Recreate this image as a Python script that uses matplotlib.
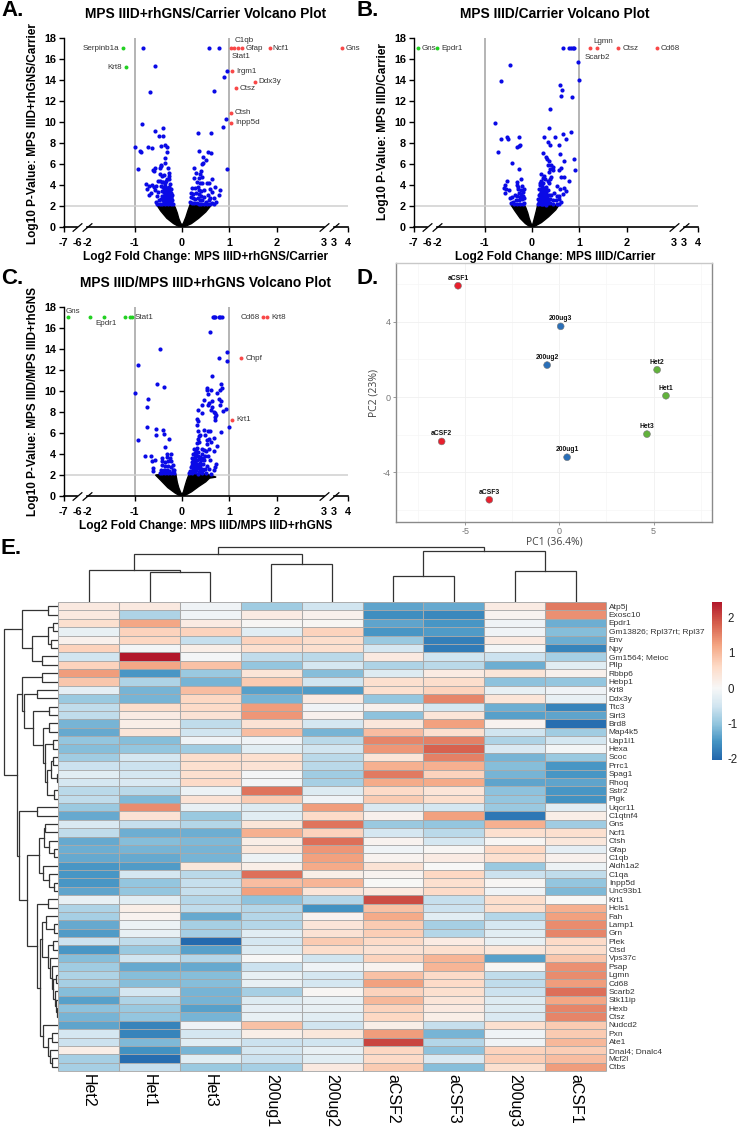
import matplotlib
matplotlib.use('Agg')
import matplotlib.pyplot as plt
import numpy as np
from matplotlib.colors import LinearSegmentedColormap, TwoSlopeNorm

plt.rcParams['font.family'] = ['Liberation Sans', 'DejaVu Sans']
plt.rcParams['axes.unicode_minus'] = False

# ---- volcano data: log2 fold change, -log10 p
a_red = [(3.57, 17), (1.85, 17), (1.27, 17), (1.18, 17), (1.10, 17), (1.03, 17), (1.06, 14.8),
         (1.535, 13.8), (1.13, 13.2), (1.03, 10.85), (1.03, 9.9)]
a_red_names = ['Gns', 'Ncf1', 'Gfap', '', 'C1qb', 'Stat1', 'Irgm1', 'Ddx3y', 'Ctsz', 'Ctsh', 'Inpp5d']
a_green = [(-1.25, 17), (-1.175, 15.2)]
a_green_names = ['Serpinb1a', 'Krt8']
a_blue = [(-.835, 17), (-.58, 15.35), (-.67, 12.85), (-.85, 9.82), (-.57, 9.1), (-.41, 9.43), (-.48, 8.6),
          (-.41, 8.6), (-1.0, 7.58), (-.71, 7.6), (-.64, 7.5), (-.35, 7.75), (-.32, 7.55), (-.44, 7.65),
          (-.88, 7.25), (-.86, 7.12), (-.32, 7.1), (-.36, 6.5), (-.355, 6.05), (-.93, 5.48), (-.61, 5.42),
          (-.58, 5.6), (-.59, 5.3), (-.45, 5.75), (-.44, 5.85), (-.46, 5.6), (-.29, 5.55), (-.28, 5.15),
          (-.27, 4.85), (-.46, 5.0), (-.43, 4.8), (-.38, 4.95), (-.5, 4.4), (-.46, 4.35), (-.43, 4.25),
          (-.4, 4.3), (-.37, 4.2), (-.34, 4.4), (-.31, 4.5), (-.27, 4.5), (-.26, 4.1), (-.55, 3.9),
          (-.76, 4.1), (-.7, 3.9), (-.74, 3.6), (-.6, 3.75), (-.66, 3.2), (-.69, 3.0), (-.63, 4.0),
          (-.57, 3.45), (-.5, 3.3), (-.53, 2.9), (-.55, 2.35), (-.53, 2.2), (-.48, 2.5),
          (-.44, 3.9), (-.4, 3.8), (-.36, 3.9), (-.32, 3.7), (-.28, 3.8), (-.24, 3.6),
          (-.43, 3.4), (-.39, 3.3), (-.36, 3.5), (-.33, 3.3), (-.3, 3.45), (-.27, 3.3), (-.24, 3.2),
          (-.42, 2.9), (-.38, 2.95), (-.35, 3.0), (-.32, 2.95), (-.29, 3.05), (-.26, 2.9), (-.23, 2.85),
          (-.45, 2.6), (-.41, 2.5), (-.37, 2.6), (-.34, 2.55), (-.31, 2.65), (-.28, 2.55), (-.25, 2.6), (-.21, 2.5),
          (-.47, 2.2), (-.43, 2.2), (-.39, 2.25), (-.36, 2.2), (-.33, 2.25), (-.3, 2.2), (-.27, 2.25), (-.24, 2.2), (-.2, 2.2),
          (-.38, 3.65), (-.34, 3.6), (-.3, 3.6), (-.26, 3.5), (-.37, 3.15), (-.34, 3.15), (-.31, 3.15), (-.28, 3.1),
          (-.25, 3.05), (-.22, 3.0), (-.4, 2.75), (-.36, 2.8), (-.33, 2.75), (-.3, 2.8), (-.27, 2.75), (-.24, 2.75),
          (-.39, 2.45), (-.35, 2.4), (-.32, 2.4), (-.29, 2.4), (-.26, 2.4), (-.23, 2.4),
          (.57, 17), (.78, 17), (.96, 14.85), (.88, 14.3), (.665, 12.97), (.92, 10.25), (.87, 9.47),
          (.34, 8.93), (.615, 8.93), (.35, 7.2), (.545, 7.1), (.61, 7.0), (.44, 6.6), (.51, 6.4), (.45, 6.1),
          (.43, 6.0), (.94, 5.45), (.26, 5.6), (.4, 5.3), (.3, 5.1), (.39, 5.0), (.43, 4.75), (.35, 4.65),
          (.64, 4.55), (.26, 4.6), (.32, 4.3), (.38, 4.2), (.42, 4.2), (.52, 4.2), (.58, 4.2), (.7, 3.8),
          (.78, 3.0), (.81, 3.5), (.64, 3.3), (.6, 3.6), (.22, 3.65), (.27, 3.7), (.33, 3.8), (.36, 3.5),
          (.41, 3.4), (.46, 3.5), (.54, 3.0), (.19, 3.2), (.24, 3.1), (.3, 3.2), (.35, 3.1), (.4, 2.9),
          (.47, 2.85), (.6, 2.75), (.68, 2.7), (.72, 2.4), (.18, 2.8), (.23, 2.7), (.28, 2.6), (.33, 2.75),
          (.38, 2.5), (.43, 2.5), (.5, 2.4), (.56, 2.5), (.63, 2.3), (.17, 2.4), (.21, 2.3), (.26, 2.25),
          (.31, 2.3), (.36, 2.2), (.41, 2.2), (.46, 2.2), (.53, 2.2), (.59, 2.15), (.68, 2.2)]

b_red = [(2.64, 17), (1.82, 17), (1.366, 17), (1.217, 17)]
b_red_names = ['Cd68', 'Ctsz', 'Lgmn', 'Scarb2']
b_green = [(-6.69, 17), (-2.01, 17)]
b_green_names = ['Gns', 'Epdr1']
b_blue = [(.644, 17), (.78, 17), (.82, 17), (.87, 17), (.89, 17), (.98, 15.7), (1.0, 13.95), (.6, 13.5),
          (.64, 13), (.62, 12.48), (.85, 12.35), (.38, 11.2), (-.785, 9.87), (-.474, 15.4), (-.665, 13.9),
          (.36, 9.36), (.83, 9.05), (.65, 8.85), (.255, 8.5), (.495, 8.5), (.715, 8.35), (.33, 8.1), (.39, 7.8),
          (.56, 7.74), (.6, 6.97), (.23, 7.03), (.29, 6.6), (.32, 6.43), (.35, 6.3), (.68, 6.27), (.88, 6.46),
          (.33, 5.83), (.4, 5.9), (.44, 5.73), (.38, 5.5), (.9, 5.41), (.62, 5.57), (.56, 5.4), (.45, 5.4),
          (.36, 5.25), (.18, 5.0), (.25, 4.87), (.62, 4.7), (.68, 4.7), (.78, 4.35), (.41, 4.75), (.38, 4.5),
          (.33, 4.4), (.28, 4.5), (.23, 4.6), (.19, 4.4), (.16, 4.2), (.24, 4.2), (.36, 4.2), (.53, 3.85),
          (.6, 3.6), (.68, 3.7), (.72, 3.4), (.65, 3.1), (.46, 3.2), (.34, 3.5), (.3, 3.8), (.25, 3.7),
          (.2, 3.8), (.15, 3.6), (.18, 3.3), (.23, 3.2), (.29, 3.3), (.35, 3.0), (.41, 3.0), (.52, 2.9),
          (.57, 2.9), (.14, 3.0), (.19, 2.9), (.25, 2.8), (.31, 2.7), (.37, 2.6), (.44, 2.5), (.5, 2.5),
          (.58, 2.6), (.62, 2.4), (.13, 2.6), (.17, 2.5), (.22, 2.4), (.27, 2.3), (.33, 2.3), (.39, 2.25),
          (.45, 2.2), (.52, 2.2), (.56, 2.15), (.13, 2.2), (.18, 2.15), (.24, 2.15), (.3, 2.1),
          (.2, 4.1), (.17, 3.95), (.22, 3.45), (.27, 3.45), (.16, 3.15), (.21, 3.0), (.26, 3.05), (.32, 3.0),
          (.16, 2.75), (.22, 2.65), (.28, 2.5), (.34, 2.5), (.15, 2.35), (.2, 2.2), (.25, 2.5),
          (-.665, 8.33), (-.52, 8.5), (-.5, 8.37), (-.283, 8.5), (-.26, 7.8), (-.31, 7.6), (-.28, 7.7), (-.715, 7.1),
          (-.42, 6.05), (-.27, 5.54), (-.24, 4.58), (-.53, 4.33), (-.31, 4.25), (-.31, 4.0), (-.58, 3.95),
          (-.6, 3.7), (-.56, 3.6), (-.49, 3.5), (-.57, 3.25), (-.3, 3.8), (-.29, 3.6), (-.21, 3.85), (-.18, 3.6),
          (-.24, 3.5), (-.19, 3.3), (-.23, 3.1), (-.28, 3.2), (-.42, 2.85), (-.46, 2.7), (-.36, 3.0), (-.31, 2.9),
          (-.26, 2.8), (-.2, 2.9), (-.17, 2.7), (-.22, 2.6), (-.28, 2.5), (-.34, 2.55), (-.41, 2.4), (-.45, 2.3),
          (-.38, 2.2), (-.32, 2.2), (-.26, 2.2), (-.2, 2.2), (-.16, 2.3)]

c_red = [(1.8, 17), (1.7, 17), (1.25, 13.1), (1.055, 7.25)]
c_red_names = ['Krt8', 'Cd68', 'Chpf', 'Krt1']
c_green = [(-6.69, 17), (-1.946, 17), (-1.656, 17), (-1.196, 17), (-1.1, 17), (-1.05, 17)]
c_green_names = ['Gns', '', 'Epdr1', '', '', 'Stat1']
c_blue = [(.65, 17), (.68, 17), (.7, 17), (.78, 17), (.8, 17), (.84, 17), (.6, 15.65), (-.46, 14.0), (.96, 13.7),
          (.78, 13.15), (.94, 12.85), (-.94, 12.45), (.63, 11.45), (.83, 10.7), (-.53, 10.65), (-.38, 10.4),
          (.52, 10.3), (.53, 10.1), (.61, 10.05), (.84, 10.25), (.8, 10.05), (.73, 9.85), (.54, 9.75), (-1.0, 9.8),
          (-.71, 9.25), (.47, 9.15), (.78, 9.2), (.83, 9.0), (.64, 9.0), (.8, 8.7), (.43, 8.7), (.56, 8.85),
          (.55, 8.7), (.64, 8.5), (-.74, 8.45), (.33, 8.2), (.62, 8.2), (.92, 8.3), (.87, 8.1), (.67, 8.0),
          (.7, 7.95), (.43, 7.9), (.72, 7.7), (.7, 7.5), (.32, 7.3), (.33, 7.1), (.69, 7.25), (.31, 6.75),
          (1.0, 6.6), (-.75, 6.6), (-.54, 6.4), (-.41, 6.3), (-.39, 5.9), (-.55, 5.85), (.33, 6.2), (.47, 6.25),
          (.54, 6.15), (.6, 6.2), (.83, 6.1), (.38, 5.85), (.36, 5.7), (.49, 5.85), (.34, 5.4), (.53, 5.3),
          (.58, 5.4), (.68, 5.5), (-.93, 5.3), (-.28, 5.4), (.32, 5.0), (.36, 5.15), (.52, 4.95), (.62, 5.1),
          (.73, 4.8), (-.35, 4.65), (.31, 4.6), (.25, 4.45), (.29, 4.3), (.42, 4.5), (.46, 4.4), (.5, 4.3),
          (.57, 4.5), (.67, 4.3), (-.79, 3.85), (-.65, 3.85), (-.32, 4.0), (-.23, 4.0), (.24, 4.0), (.3, 3.95),
          (.34, 3.8), (.43, 4.0), (.48, 3.85), (.55, 3.8), (-.42, 3.6), (-.31, 3.7), (-.26, 3.6), (.21, 3.6),
          (.26, 3.55), (.32, 3.4), (.4, 3.4), (.47, 3.45), (.6, 3.45), (-.58, 3.4), (-.63, 3.3), (-.42, 3.3),
          (-.37, 3.2), (-.3, 3.3), (-.23, 3.3), (.2, 3.2), (.25, 3.1), (.31, 3.05), (.37, 3.1), (.44, 3.0),
          (.52, 2.9), (.72, 3.0), (.7, 2.75), (-.42, 2.95), (-.36, 2.85), (-.3, 2.9), (-.24, 2.8), (-.2, 2.95),
          (.18, 2.8), (.23, 2.7), (.29, 2.7), (.36, 2.7), (.42, 2.6), (.49, 2.6), (.56, 2.6), (.68, 2.5),
          (-.62, 2.65), (-.61, 2.4), (-.44, 2.5), (-.38, 2.45), (-.32, 2.5), (-.27, 2.4), (-.2, 2.5),
          (-.16, 2.45), (.17, 2.4), (.22, 2.3), (.28, 2.3), (.35, 2.3), (.43, 2.2), (.51, 2.2), (.61, 2.1),
          (-.47, 2.2), (-.42, 2.15), (-.35, 2.2), (-.29, 2.15), (-.23, 2.2), (-.17, 2.15), (.14, 2.2), (.2, 2.15), (.33, 2.1),
          (.28, 4.05), (.33, 4.2), (.27, 3.75), (.23, 3.35), (.28, 3.25), (.35, 3.5), (.39, 3.75), (.44, 3.6),
          (.21, 2.95), (.27, 2.9), (.33, 2.85), (.39, 2.85), (.24, 2.5), (.3, 2.5), (.37, 2.5), (.45, 2.45)]

# outline of the non-significant black cloud, one for each comparison
a_cloud_x = [-.53, -.45, -.32, -.18, -.08, 0, .08, .2, .35, .5, .6, .58, .45, .3, .17, .13, .08, .03, 0, -.03, -.07, -.1, -.14, -.18]
a_cloud_y = [2.05, 1.5, .8, .3, .05, 0, .05, .3, .8, 1.4, 1.95, 2.1, 2.1, 2.1, 2.1, 1.6, .9, .35, .15, .35, .8, 1.3, 1.8, 2.1]
b_cloud_x = [-.44, -.36, -.25, -.14, -.06, 0, .06, .2, .35, .5, .56, .45, .3, .12, .09, .05, .02, 0, -.02, -.06, -.09, -.13, -.17, -.3]
b_cloud_y = [2.05, 1.5, .8, .3, .05, 0, .05, .4, .95, 1.6, 2.0, 2.1, 2.1, 2.1, 1.5, .8, .3, .12, .3, .8, 1.3, 1.8, 2.1, 2.1]
c_cloud_x = [-.56, -.45, -.3, -.15, -.06, 0, .06, .2, .35, .5, .58, .72, .5, .3, .15, .1, .06, .03, 0, -.03, -.07, -.1, -.13, -.3]
c_cloud_y = [2.0, 1.5, .8, .3, .05, 0, .05, .4, .9, 1.35, 1.7, 1.8, 2.1, 2.1, 2.1, 1.5, .9, .4, .15, .35, .8, 1.3, 2.05, 2.1]

# ---- PCA data
pca_names = ['aCSF1', 'aCSF2', 'aCSF3', '200ug3', '200ug2', '200ug1', 'Het2', 'Het1', 'Het3']
pc1 = [-5.38, -6.25, -3.72, .07, -.65, .41, 5.19, 5.66, 4.65]
pc2 = [5.92, -2.36, -5.46, 3.76, 1.7, -3.2, 1.45, .07, -1.97]
pca_colors = ['#e8202e'] * 3 + ['#2a6fb8'] * 3 + ['#62b23c'] * 3

# ---- heatmap data
samples = ['Het2', 'Het1', 'Het3', '200ug1', '200ug2', 'aCSF2', 'aCSF3', '200ug3', 'aCSF1']
genes = ['Atp5j', 'Exosc10', 'Epdr1', 'Gm13826; Rpl37rt; Rpl37', 'Env', 'Npy', 'Gm1564; Meioc', 'Pllp', 'Rbbp6',
         'Hebp1', 'Krt8', 'Ddx3y', 'Ttc3', 'Sirt3', 'Brd8', 'Map4k5', 'Uap1l1', 'Hexa', 'Scoc', 'Prrc1', 'Spag1',
         'Rhoq', 'Sstr2', 'Pigk', 'Uqcr11', 'C1qtnf4', 'Gns', 'Ncf1', 'Ctsh', 'Gfap', 'C1qb', 'Aldh1a2', 'C1qa',
         'Inpp5d', 'Unc93b1', 'Krt1', 'Hcls1', 'Fah', 'Lamp1', 'Grn', 'Plek', 'Ctsd', 'Vps37c', 'Psap', 'Lgmn',
         'Cd68', 'Scarb2', 'Stk11ip', 'Hexb', 'Ctsz', 'Nudcd2', 'Pxn', 'Ate1', 'Dnal4; Dnalc4', 'Mcf2l', 'Ctbs']
expr = [
    [.3, .3, -.1, -.9, -.5, -1.35, -1.3, .25, 1.6],
    [.3, -.8, -.1, .25, .15, -1.6, -1.65, .1, 1.4],
    [.5, 1.2, .25, .05, .05, -1.35, -1.5, -.1, -1.25],
    [-.2, .7, .7, -.3, .7, -1.5, -1.45, -.1, -1.1],
    [.15, .65, -.6, .7, .55, -.95, -1.75, .3, -1.25],
    [.7, -.05, .2, .5, .5, -.45, -1.8, -.05, -1.7],
    [-.5, 2.45, -.05, -.65, -.7, .3, -.5, -.55, -.85],
    [.7, 1.2, .9, -1, -.45, -.8, -.7, -1.25, -.3],
    [1.3, -1.5, -.95, .4, -1.1, -.35, .25, .4, .15],
    [.85, -.8, -1.2, .8, -.5, .5, .55, -1.05, -1.0],
    [-.25, -1.2, .95, -1.4, -1.45, .5, .7, -.2, -.1],
    [-.95, -1.2, .65, -1.2, .3, -1, 1.5, .4, -.2],
    [-.65, .55, .6, 1.3, -.1, .15, -.45, -1.25, -1.7],
    [-.65, .25, .45, 1.35, .15, -1.05, .4, -1.4, -1.35],
    [-1.2, .2, -.65, .45, -.45, .35, 1.25, .1, -1.95],
    [-1.3, .4, -.5, .95, -1.2, .95, .5, -.5, -.9],
    [-1.0, -1.1, -.1, -.1, -.7, 1.5, 1.55, -.8, -.45],
    [-1.1, -1.0, -.9, -.3, -.5, 1.35, 1.8, -.4, -.05],
    [-.9, -.45, .55, .5, -.7, .4, 1.55, -1.2, -.95],
    [-.55, -.55, .5, .45, -.7, 1.1, 1.1, -1.1, -1.5],
    [-.3, -.45, .5, -.05, -.9, 1.6, .7, -1.2, -1.5],
    [-.45, -.4, .6, -.05, -.85, 1.15, 1.15, -1.35, -1.35],
    [-.7, -.7, -.15, 1.65, -.35, .6, .4, -1.05, -1.5],
    [-.65, -1.15, .45, .8, -.1, .8, .55, -1.0, -1.55],
    [-.95, 1.45, -.2, -.35, 1.3, -.4, -.45, -.95, -.3],
    [-1.3, .45, -.95, -.3, .6, .15, 1.25, -1.85, .2],
    [-.4, -.6, -.75, .4, 1.65, -.95, -1.0, 1.1, -.9],
    [-.65, -1.25, -1.25, 1.1, .7, -.45, -.7, .5, .5],
    [-1.3, -1.1, -1.15, .2, 1.7, .1, -.45, .05, .35],
    [-1.25, -1.2, -1.2, .35, 1.35, -.1, .05, .65, -.25],
    [-1.3, -1.3, -1.2, -.15, 1.25, .1, .25, .5, .15],
    [-1.5, -1.45, .35, .2, 1.15, .45, 0, -.95, -.15],
    [-1.5, -.45, -.7, 1.7, .2, .1, .65, -.55, -.65],
    [-1.5, -1.0, -.6, .95, 1.05, 0, .5, .05, -1.0],
    [-1.35, -1.0, -.6, 1.25, .4, .3, .6, -.1, -1.15],
    [-.2, -.3, -.75, -1.05, -.75, 2.0, -.6, .55, 0],
    [-.8, .2, -.65, -.75, -1.55, .9, -.55, .55, 1.1],
    [-.85, .1, -1.3, -.75, .1, 1.15, -.3, -.75, 1.25],
    [-1.3, -.15, -.85, -.75, .4, .8, -.85, -.45, 1.45],
    [-1.45, -.2, -.85, -.3, .45, .75, -.75, -.3, 1.5],
    [-.55, -.65, -2.0, -.45, .8, .6, .25, -.2, .6],
    [-1.5, -.95, -1.4, -.35, .55, .45, .5, .35, .55],
    [-1.1, -.5, -.75, 0, -.5, .7, 1.05, -1.4, .85],
    [-.9, -1.3, -1.3, -.55, -.1, .1, 1.05, .05, 1.4],
    [-.8, -1.1, -1.1, -.2, -.45, .9, .6, -.65, 1.45],
    [-.85, -1.1, -1.1, -.2, -.45, 1.25, .6, -.65, 1.3],
    [-1.1, -.45, -1.2, -.85, .05, .7, .5, -.55, 1.7],
    [-1.4, -.8, -1.2, -.35, -.2, 1.0, .4, -.35, 1.2],
    [-1.05, -.95, -1.4, -.25, -.2, .7, .3, -.35, 1.5],
    [-1.2, -1.0, -1.2, -.2, -.3, .65, .2, -.4, 1.5],
    [-1.35, -1.7, -.1, .9, -.5, .2, -.6, .5, .8],
    [-.45, -1.7, -.45, .2, .35, 1.3, -1.2, -.1, .8],
    [-.55, -1.15, -.3, -.55, -.5, 2.05, -.75, -.1, 1.0],
    [.2, -1.55, -1.2, -.45, -.2, .65, -1.05, .7, .75],
    [-.85, -1.95, -.3, -.55, -.3, .6, -.4, .75, .95],
    [-.85, -.6, -.95, -.85, .3, .8, -1.1, .5, 1.3],
]

# dendrograms: (height, child, child), an int is a leaf
col_tree = (54.7,
            (48.3, (31.7, 0, (29.7, 1, 2)), (37.7, 3, 4)),
            (50.7, (26, 5, 6), (30.7, 7, 8)))
# row tree heights are the pixel distance from the left of the picture
row_tree = (3.7,
            (21.7, (47.7, 0, 1),
             (31.7, (47.7, (53, 2, 3), (50.7, 4, 5)), (41.7, 6, 7))),
            (17.3,
             (22.3, (41.7, 8, 9),
              (24, (36.7, 10, 11),
               (32.7, (49, 12, 13),
                (43, (49.3, 14, 15),
                 (45, (53, 16, 17),
                  (47, (50.7, (53.3, 18, 19), (56.5, 20, 21)), (54.3, 22, 23))))))),
             (19.3, (36.7, 24, 25),
              (27.3,
               (39.3,
                (43.5, (45, 26, 27), (49, 28, (54.3, 29, 30))),
                (43.3, 31, (49, 32, (54.3, 33, 34)))),
               (36.7, (47.7, 35, 36),
                (40,
                 (42,
                  (45.7, 37, (54.3, 38, 39)),
                  (47.7, (53.3, 40, 41),
                   (50, 42, (51.7, 43, (53.3, (55.7, 44, 45), (55, 46, (56, 47, (56.7, 48, 49)))))))),
                 (42.7, 50, (48.3, (51.7, 51, 52), (50, 53, (51.7, 54, 55))))))))))

W, H = 737, 1131
fig = plt.figure(figsize=(W / 100, H / 100), dpi=100)


def box(left, top, right, bottom):
    return [left / W, 1 - bottom / H, (right - left) / W, (bottom - top) / H]


def put(x, y, s, **kw):
    kw.setdefault('ha', 'center')
    kw.setdefault('va', 'center')
    fig.text(x / W, 1 - y / H, s, **kw)


# axis with two breaks: -6..-2 and the doubled 3
def fwd(v):
    return np.interp(v, [-7, -6, -2, 3, 3.0001, 4], [-2.5, -2.21, -2, 3, 3.2, 3.5])


def inv(v):
    return np.interp(v, [-2.5, -2.21, -2, 3, 3.2, 3.5], [-7, -6, -2, 3, 3.0001, 4])


def volcano(pos, blue, red, red_names, red_off, green, green_names, green_off, cloud_x, cloud_y):
    ax = fig.add_axes(box(*pos))
    ax.set_xscale('function', functions=(fwd, inv))
    ax.set_xlim(-7, 4)
    ax.set_ylim(0, 18)
    ax.axvline(-1, color='#a0a0a0', lw=1.1, zorder=1)
    ax.axvline(1, color='#a0a0a0', lw=1.1, zorder=1)
    ax.axhline(2, color='#cfcfcf', lw=1.1, zorder=1)
    ax.fill(cloud_x, cloud_y, color='black', lw=1, zorder=2)
    ax.scatter(*zip(*blue), s=9, color='#0a0ae6', lw=0, zorder=3)
    ax.scatter(*zip(*red), s=8, color='#f94848', lw=0, zorder=3)
    ax.scatter(*zip(*green), s=8, color='#22d022', lw=0, zorder=3)

    for pts, names, off in [(red, red_names, red_off), (green, green_names, green_off)]:
        for p, name, o in zip(pts, names, off):
            if name:
                ax.annotate(name, p, xytext=(o[0] * .72, o[1] * .72), textcoords='offset points',
                            ha=o[2], va='center', fontsize=5.8, color='#333333')

    for s in ['top', 'right', 'bottom']:
        ax.spines[s].set_visible(False)
    ax.spines['left'].set_linewidth(1)
    for a, b in [(-7, -6), (-2, 3), (3.0001, 4)]:
        ax.plot([a, b], [0, 0], color='black', lw=1.2, clip_on=False, zorder=5)
    for v in [-6, -2, 3, 3.0001]:
        ax.plot([v], [0], marker=[(-3.5, -3), (3.5, 3)], ms=7, mew=.9, color='black', clip_on=False,
                fillstyle='none', zorder=6)

    ax.set_xticks([-7, -6, -2, -1, 0, 1, 2, 3, 3.0001, 4])
    ax.set_xticklabels(['-7', '-6', '-2', '-1', '0', '1', '2', '3', '3', '4'], fontweight='bold', fontsize=7.8)
    ax.set_yticks(range(0, 19, 2))
    ax.set_yticklabels(range(0, 19, 2), fontweight='bold', fontsize=7.8)
    ax.minorticks_off()
    ax.tick_params(length=3.5, width=1, pad=2)
    ax.tick_params(axis='x', pad=4.5)
    for i in [1, 2, 7, 8]:
        ax.xaxis.get_major_ticks()[i].tick1line.set_visible(False)
    return ax


a_red_off = [(4, 0, 'left'), (3, 0, 'left'), (3, 0, 'left'), (0, 0, 'left'), (1, 8, 'left'),
             (1, -8, 'left'), (4, 0, 'left'), (4, 0, 'left'), (4, 0, 'left'), (4, 0, 'left'), (4, 0, 'left')]
a_green_off = [(-4, 0, 'right'), (-4, 0, 'right')]
b_red_off = [(4, 0, 'left'), (4, 0, 'left'), (-3, 6.5, 'left'), (-5, -9, 'left')]
b_green_off = [(4, 0, 'left'), (4, 0, 'left')]
c_red_off = [(4, 0, 'left'), (-2.5, 0, 'right'), (4.5, 0, 'left'), (4, 0, 'left')]
c_green_off = [(-2.5, 5.5, 'left'), (0, 0, 'left'), (-8, -6, 'left'), (0, 0, 'left'), (0, 0, 'left'), (2, 0, 'left')]

volcano((63.7, 37.7, 347.7, 226.7), a_blue, a_red, a_red_names, a_red_off, a_green, a_green_names, a_green_off,
        a_cloud_x, a_cloud_y)
volcano((413.7, 37.7, 697.7, 226.7), b_blue, b_red, b_red_names, b_red_off, b_green, b_green_names, b_green_off,
        b_cloud_x, b_cloud_y)
volcano((63.7, 307, 347.7, 496), c_blue, c_red, c_red_names, c_red_off, c_green, c_green_names, c_green_off,
        c_cloud_x, c_cloud_y)

put(205.8, 14, 'MPS IIID+rhGNS/Carrier Volcano Plot', fontweight='bold', fontsize=9.9)
put(555, 14, 'MPS IIID/Carrier Volcano Plot', fontweight='bold', fontsize=9.9)
put(205.8, 283.5, 'MPS IIID/MPS IIID+rhGNS Volcano Plot', fontweight='bold', fontsize=9.9)
put(205.3, 257, 'Log2 Fold Change: MPS IIID+rhGNS/Carrier', fontweight='bold', fontsize=8.6)
put(555.5, 257, 'Log2 Fold Change: MPS IIID/Carrier', fontweight='bold', fontsize=8.6)
put(205.3, 526, 'Log2 Fold Change: MPS IIID/MPS IIID+rhGNS', fontweight='bold', fontsize=8.6)
put(33, 134, 'Log10 P-Value: MPS IIID+rhGNS/Carrier', fontweight='bold', fontsize=8.5, rotation=90)
put(383, 132, 'Log10 P-Value: MPS IIID/Carrier', fontweight='bold', fontsize=8.5, rotation=90)
put(33, 401.7, 'Log10 P-Value: MPS IIID/MPS IIID+rhGNS', fontweight='bold', fontsize=8.5, rotation=90)

for x, y, s in [(1, 11, 'A.'), (357, 11, 'B.'), (1, 278, 'C.'), (357, 278, 'D.'), (1, 549, 'E.')]:
    put(x, y, s, fontweight='bold', fontsize=16, ha='left')

# PCA
ax = fig.add_axes(box(395.7, 263, 712.3, 522.3))
ax.set_xlim(-8.69, 8.12)
ax.set_ylim(-6.66, 7.13)
ax.set_xticks([-5, 0, 5])
ax.set_yticks([-4, 0, 4])
ax.set_xticks([-7.5, -2.5, 2.5, 7.5], minor=True)
ax.set_yticks([-6, -2, 2, 6], minor=True)
ax.grid(which='major', color='#f0f0f0', lw=.6)
ax.grid(which='minor', color='#f6f6f6', lw=.5)
ax.set_axisbelow(True)
ax.tick_params(which='major', length=2, width=.6, color='#888888', labelcolor='#777777', labelsize=6.5, pad=1.5)
ax.tick_params(which='minor', length=0)
for s in ax.spines.values():
    s.set_color('#8a8a8a')
    s.set_linewidth(1)
ax.spines['top'].set_color('#c8c8c8')
ax.scatter(pc1, pc2, s=24, c=pca_colors, edgecolors='#777777', linewidths=.4, zorder=3)
for x, y, name in zip(pc1, pc2, pca_names):
    ax.annotate(name, (x, y), xytext=(0, 3), textcoords='offset points', ha='center', va='bottom',
                fontsize=4.9, color='#111111', fontweight='bold')
put(554, 541.5, 'PC1 (36.4%)', fontsize=7.5, color='#444444', family=['Open Sans', 'DejaVu Sans'])
put(374, 393, 'PC2 (23%)', fontsize=7.5, color='#444444', rotation=90, family=['Open Sans', 'DejaVu Sans'])

# heatmap
cmap = LinearSegmentedColormap.from_list('rdbu', ['#2166ac', '#4393c3', '#92c5de', '#d1e5f0', '#f7f7f7',
                                                   '#fddbc7', '#f4a582', '#d6604d', '#b2182b'])
norm = TwoSlopeNorm(vcenter=0, vmin=-2.05, vmax=2.45)
ax = fig.add_axes(box(58.3, 602, 606, 1071))
mesh = ax.pcolormesh(np.array(expr), cmap=cmap, norm=norm, linewidth=0)
ax.hlines(np.arange(len(genes) + 1), 0, 9, color='#a9a9a9', lw=.65, clip_on=False)
ax.vlines(np.arange(10), 0, len(genes), color='#a9a9a9', lw=.75, clip_on=False)
ax.set_xlim(0, 9)
ax.set_ylim(len(genes), 0)
ax.set_xticks(np.arange(9) + .5)
ax.set_xticklabels(samples, rotation=-90, fontsize=11.5, color='black')
ax.set_yticks(np.arange(len(genes)) + .5)
ax.set_yticklabels(genes, fontsize=6, color='#333333')
ax.yaxis.tick_right()
ax.tick_params(length=0)
ax.tick_params(axis='x', pad=2)
ax.tick_params(axis='y', pad=2)
for s in ax.spines.values():
    s.set_visible(False)

cax = fig.add_axes(box(711.7, 602, 722.3, 760))
cb = fig.colorbar(mesh, cax=cax)
cax.set_yscale('linear')
cb.set_ticks([-2, -1, 0, 1, 2])
cb.set_ticklabels(['-2', '-1', '0', '1', '2'])
cax.minorticks_off()
cax.tick_params(length=0, labelsize=8.3, pad=4, labelcolor='#222222')
cb.outline.set_visible(False)


def draw_tree(ax, node, horizontal):
    # returns the leaf-axis position and the height of a node
    if isinstance(node, int):
        return node + .5, None
    h, l, r = node
    pl, hl = draw_tree(ax, l, horizontal)
    pr, hr = draw_tree(ax, r, horizontal)
    base = 0 if horizontal else 58.3
    hl = base if hl is None else hl
    hr = base if hr is None else hr
    a = [pl, pl, pr, pr]
    b = [hl, h, h, hr]
    if horizontal:
        ax.plot(a, b, color='#333333', lw=.9, solid_joinstyle='miter')
    else:
        ax.plot(b, a, color='#333333', lw=.9, solid_joinstyle='miter')
    return (pl + pr) / 2, h


ax = fig.add_axes(box(58.3, 540, 606, 602))
ax.set_xlim(0, 9)
ax.set_ylim(0, 62)
ax.axis('off')
draw_tree(ax, col_tree, True)

ax = fig.add_axes(box(0, 602, 58.3, 1071))
ax.set_xlim(0, 58.3)
ax.set_ylim(len(genes), 0)
ax.axis('off')
draw_tree(ax, row_tree, False)

fig.savefig('out.png', dpi=100)
